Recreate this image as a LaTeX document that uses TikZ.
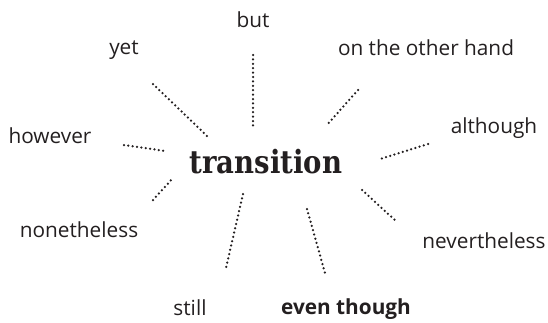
\documentclass[tikz,border=0pt]{standalone}
\usepackage{fontspec}
\setmainfont{Open Sans}
\newfontfamily\slabfont{DejaVu Serif}
\definecolor{ink}{HTML}{231F20}
\begin{document}
\begin{tikzpicture}[x=1pt,y=-1pt,
  word/.style={inner sep=0pt,text=ink,font=\fontsize{20.8}{24}\selectfont},
  boldword/.style={word,font=\fontsize{20.8}{24}\selectfont\bfseries},
  title/.style={inner sep=0pt,text=ink,font=\fontsize{32}{36}\slabfont\bfseries,xscale=0.86},
  dots/.style={draw=ink,line width=2.5pt,line cap=round,dash pattern=on 0pt off 4.4pt}]
\useasboundingbox (0,0) rectangle (548,322);
\node[title] (t) at (266,162) {transition};
\node[word] (but) at (253,20) {but};
\node[word] (yet) at (124,50) {yet};
\node[word] (oth) at (426,48) {on the other hand};
\node[word] (how) at (50,136) {however};
\node[word] (alt) at (494,128) {although};
\node[word] (non) at (79,230) {nonetheless};
\node[word] (nev) at (484,241) {nevertheless};
\node[word] (sti) at (190,308) {still};
\node[boldword] (eve) at (346,309) {even though};
\coordinate (but1) at (253,55); \coordinate (but2) at (253,126);
\coordinate (yet1) at (153,84); \coordinate (yet2) at (207,136);
\coordinate (oth1) at (358,90); \coordinate (oth2) at (326,126);
\coordinate (how1) at (124,145); \coordinate (how2) at (165,151);
\coordinate (alt1) at (428,144); \coordinate (alt2) at (380,159);
\coordinate (non1) at (153,200); \coordinate (non2) at (173,178);
\coordinate (sti1) at (243,194); \coordinate (sti2) at (226,268);
\coordinate (eve1) at (307,209); \coordinate (eve2) at (325,273);
\coordinate (nev1) at (362,190); \coordinate (nev2) at (397,222);
\foreach \n in {but,yet,oth,how,alt,non,sti,eve,nev}
  \draw[dots] (\n1) -- (\n2);
\end{tikzpicture}
\end{document}
